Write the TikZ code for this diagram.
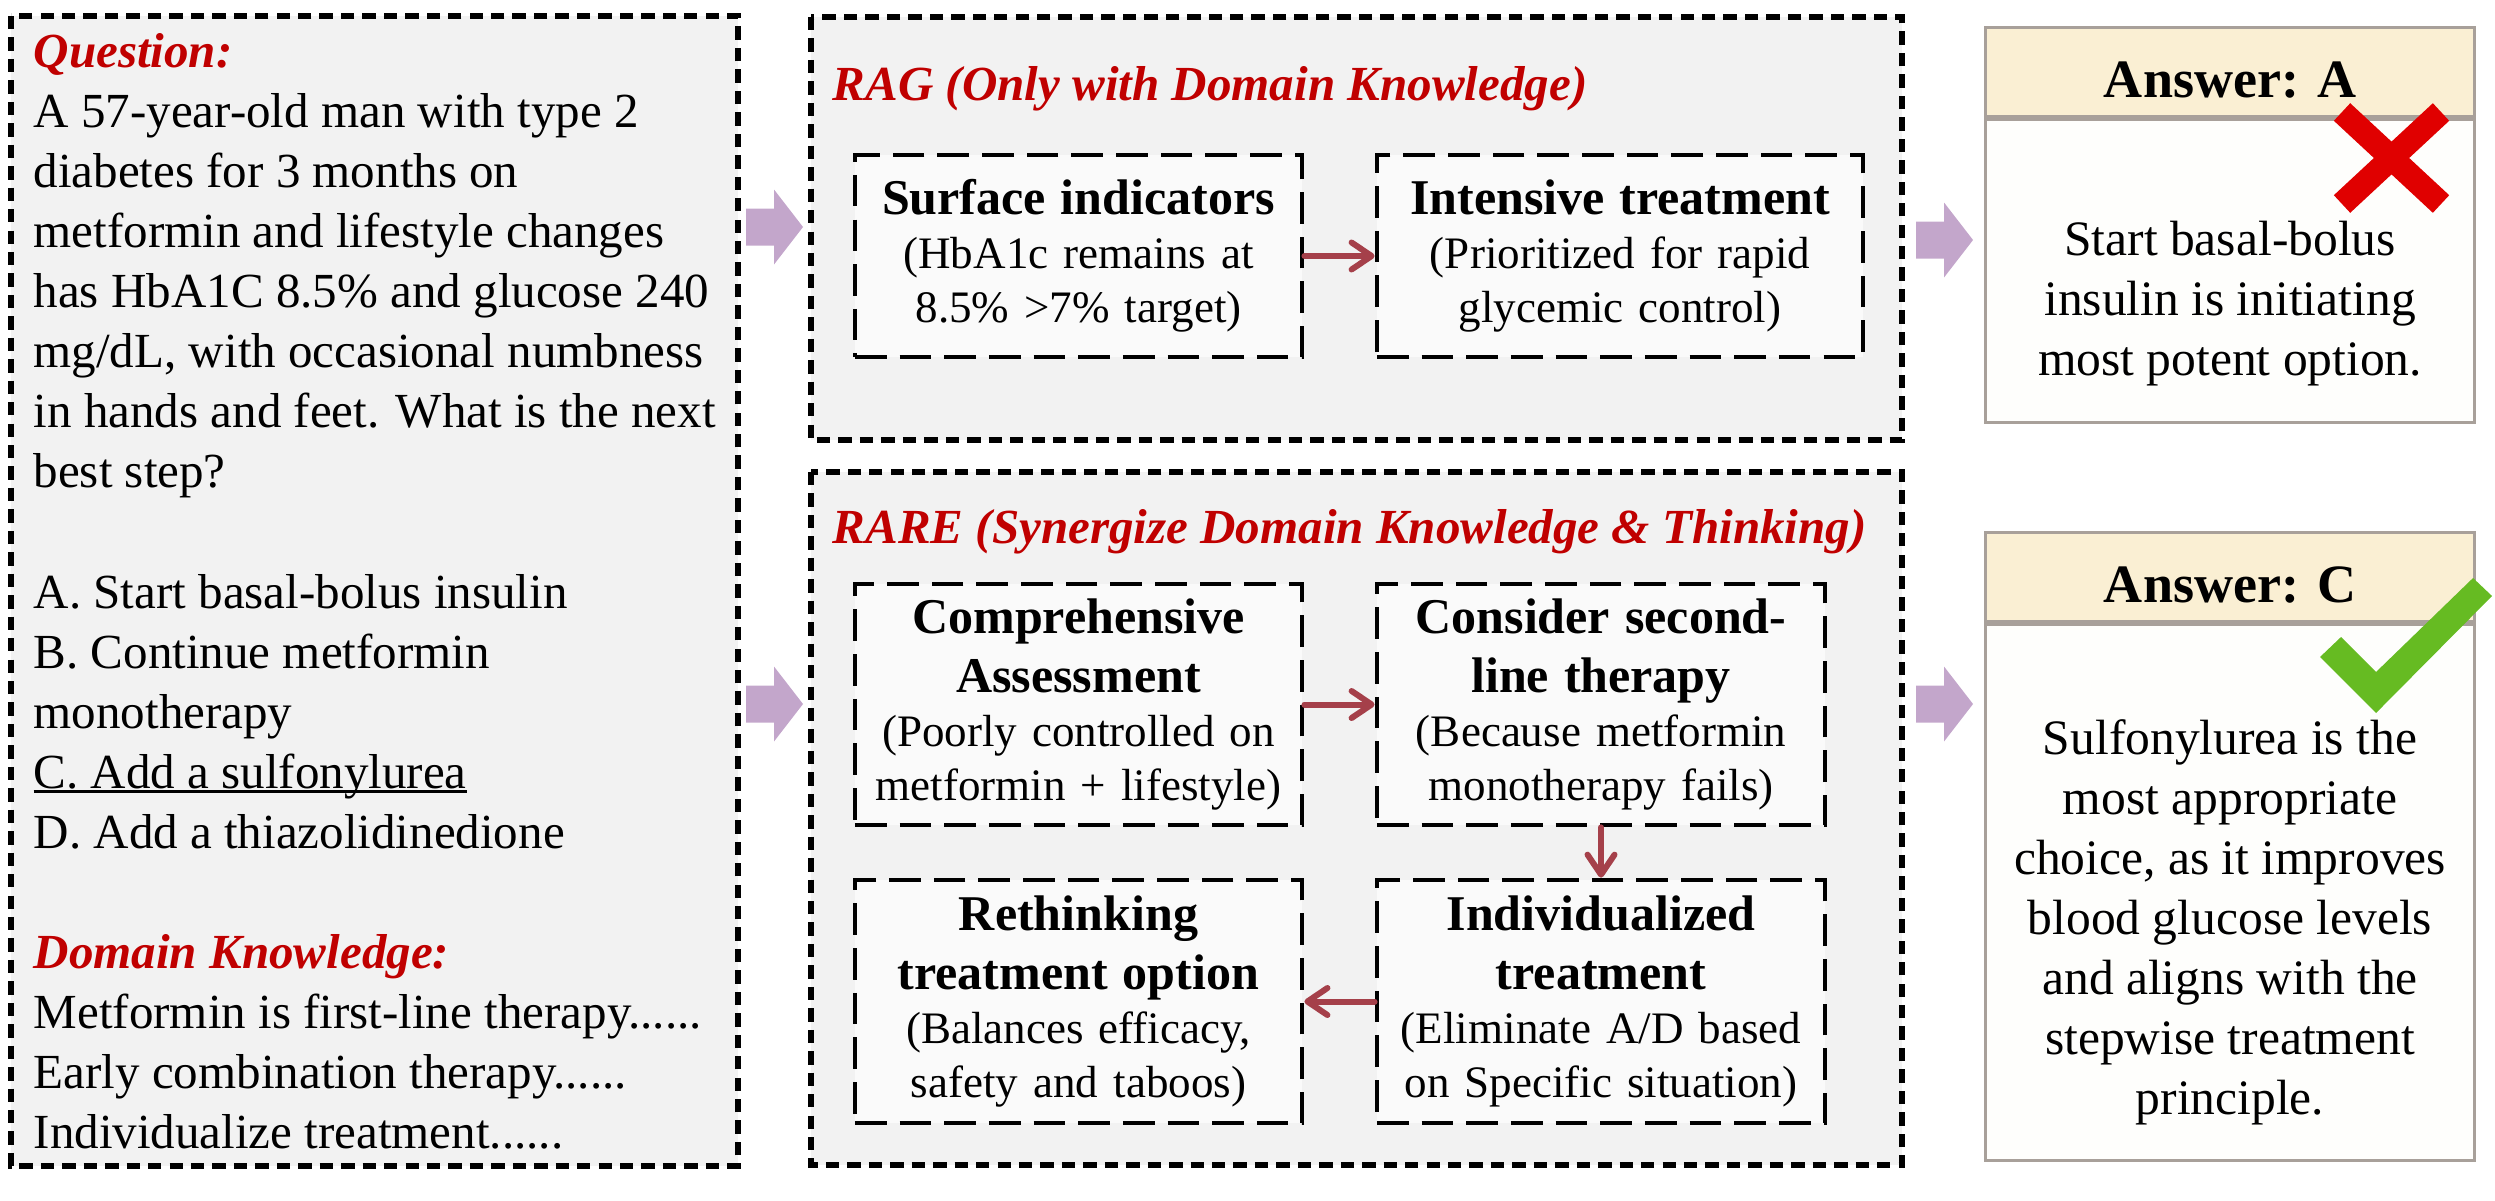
\documentclass[tikz,border=0pt]{standalone}
\usepackage{fontspec}
\setmainfont{Liberation Serif}
\usetikzlibrary{arrows.meta}

\definecolor{panelgray}{HTML}{F2F2F2}
\definecolor{stepwhite}{HTML}{FAFAFA}
\definecolor{titlered}{HTML}{C00000}
\definecolor{flowred}{HTML}{A5404A}
\definecolor{blockpurple}{HTML}{C3A6CB}
\definecolor{headfill}{HTML}{FAEFD3}
\definecolor{bodyfill}{HTML}{FEFEFC}
\definecolor{answerline}{HTML}{A8A09A}
\definecolor{crossred}{HTML}{E00000}
\definecolor{tickgreen}{HTML}{66BB22}

\newcommand{\headfont}{\bfseries\itshape\color{titlered}}
\newcommand{\stephead}[1]{{\fontsize{0.5cm}{0.59cm}\selectfont\bfseries #1\par}}
\newcommand{\keyline}[1]{\setbox0=\hbox{#1}\rlap{\rule[-0.045cm]{\wd0}{0.025cm}}\box0}

\begin{document}
\begin{tikzpicture}[x=0.01cm, y=-0.01cm,
	panel/.style={draw=black, fill=panelgray, line width=1.6pt, dash pattern=on 3.8pt off 2.3pt},
	paneltitle/.style={inner sep=0pt, font=\fontsize{0.49cm}{0.6cm}\selectfont\headfont},
	stepbox/.style={draw=black, fill=stepwhite, line width=1.3pt, dash pattern=on 9pt off 3.7pt,
		inner sep=0pt, align=center, font=\fontsize{0.45cm}{0.54cm}\selectfont},
	flow/.style={draw=flowred, line width=1.7pt, line cap=round,
		-{Straight Barb[length=0.2cm, width=0.27cm, round]}},
	headbox/.style={draw=answerline, fill=headfill, line width=0.85pt, minimum width=4.88cm,
		minimum height=0.88cm, inner sep=0pt, text height=0.5cm, text depth=0pt,
		font=\fontsize{0.54cm}{0.65cm}\selectfont\bfseries},
	bodybox/.style={draw=answerline, fill=bodyfill, line width=0.85pt, minimum width=4.88cm, inner sep=0pt},
	answertext/.style={inner sep=0pt, align=center, font=\fontsize{0.495cm}{0.6cm}\selectfont}]
	\useasboundingbox (0,0) rectangle (2495,1200);
	
	% panels
	\draw[panel] (11,16) rectangle (738,1166);
	\draw[panel] (811,17) rectangle (1902,440);
	\draw[panel] (811,472) rectangle (1902,1165);
	
	% question and knowledge
	\node[anchor=north west, inner sep=0pt, align=left, font=\fontsize{0.49cm}{0.6cm}\selectfont] (question) at (33,33) {%
		{\headfont Question:}\\
		A 57-year-old man with type 2\\
		diabetes for 3 months on\\
		metformin and lifestyle changes\\
		has HbA1C 8.5\% and glucose 240\\
		mg/dL, with occasional numbness\\
		in hands and feet. What is the next\\
		best step?\\[0.6cm]
		A.\ Start basal-bolus insulin\\
		B.\ Continue metformin\\
		monotherapy\\
		\keyline{C.\ Add a sulfonylurea}\\
		D.\ Add a thiazolidinedione\\[0.6cm]
		{\headfont Domain Knowledge:}\\
		Metformin is first-line therapy......\\
		Early combination therapy......\\
		Individualize treatment......};
	
	\node[paneltitle, anchor=base west] (ragtitle) at (832,100) {RAG (Only with Domain Knowledge)};
	\node[paneltitle, anchor=base west] (raretitle) at (832,543) {RARE (Synergize Domain Knowledge \& Thinking)};
	
	% RAG steps
	\node[stepbox, text width=4.47cm, minimum height=2.02cm] (surface) at (1078.5,256)
		{\stephead{Surface indicators}(HbA1c remains at\\8.5\% >7\% target)};
	\node[stepbox, text width=4.86cm, minimum height=2.02cm] (intensive) at (1620,256)
		{\stephead{Intensive treatment}(Prioritized for rapid\\glycemic control)};
	
	% RARE steps
	\node[stepbox, text width=4.47cm, minimum height=2.41cm] (assess) at (1078.5,704.5)
		{\stephead{Comprehensive\\Assessment}(Poorly controlled on\\metformin + lifestyle)};
	\node[stepbox, text width=4.48cm, minimum height=2.41cm] (second) at (1601,704.5)
		{\stephead{Consider second-\\line therapy}(Because metformin\\monotherapy fails)};
	\node[stepbox, text width=4.48cm, minimum height=2.43cm] (individual) at (1601,1001.5)
		{\stephead{Individualized\\treatment}(Eliminate A/D based\\on Specific situation)};
	\node[stepbox, text width=4.47cm, minimum height=2.43cm] (rethink) at (1078.5,1001.5)
		{\stephead{Rethinking\\treatment option}(Balances efficacy,\\safety and taboos)};
	
	\draw[flow] (surface) -- (intensive);
	\draw[flow] (assess) -- (second);
	\draw[flow] (second) -- (individual);
	\draw[flow] (individual) -- (rethink);
	
	% block arrows
	\foreach \x/\y in {746/227, 746/704, 1916/240, 1916/704}
		\fill[blockpurple] (\x,\y-18.5) -- (\x+28,\y-18.5) -- (\x+28,\y-37.5) -- (\x+57,\y)
			-- (\x+28,\y+37.5) -- (\x+28,\y+18.5) -- (\x,\y+18.5) -- cycle;
	
	% answers
	\node[headbox] (headA) at (2230,72) {Answer: A};
	\node[bodybox, minimum height=3.03cm, anchor=north] (bodyA) at (headA.south) {};
	\node[answertext] (textA) at (2230,304) {Start basal-bolus\\insulin is initiating\\most potent option.};
	
	\node[headbox] (headC) at (2230,577) {Answer: C};
	\node[bodybox, minimum height=5.36cm, anchor=north] (bodyC) at (headC.south) {};
	\node[answertext] (textC) at (2230,922) {Sulfonylurea is the\\most appropriate\\choice, as it improves\\blood glucose levels\\and aligns with the\\stepwise treatment\\principle.};
	
	\draw[crossred, line width=0.24cm] (2342,112) -- (2441,204) (2441,112) -- (2342,204); % wrong
	\fill[tickgreen] (2341,637) -- (2376,672) -- (2473,578) -- (2492,596) -- (2376,713) -- (2320,657) -- cycle; % right
\end{tikzpicture}
\end{document}
